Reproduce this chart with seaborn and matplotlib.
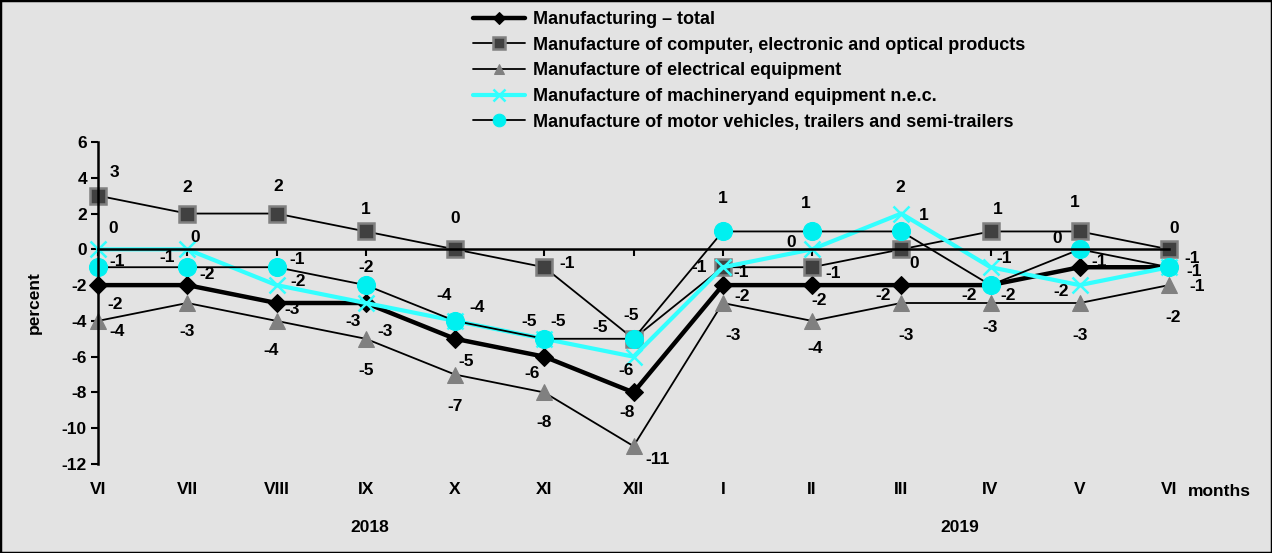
import matplotlib
matplotlib.use("Agg")
import matplotlib.pyplot as plt
import numpy as np
import pandas as pd
import seaborn as sns
from matplotlib.patches import Rectangle

# ---------------- data ----------------
months = ["VI", "VII", "VIII", "IX", "X", "XI", "XII", "I", "II", "III", "IV", "V", "VI"]
years = ["2018", "2019"]
total = [-2, -2, -3, -3, -5, -6, -8, -2, -2, -2, -2, -1, -1]
computer = [3, 2, 2, 1, 0, -1, -5, -1, -1, 0, 1, 1, 0]
electrical = [-4, -3, -4, -5, -7, -8, -11, -3, -4, -3, -3, -3, -2]
machinery = [0, 0, -2, -3, -4, -5, -6, -1, 0, 2, -1, -2, -1]
motor = [-1, -1, -1, -2, -4, -5, -5, 1, 1, 1, -2, 0, -1]

names = [
    "Manufacturing – total",
    "Manufacture of computer, electronic and optical products",
    "Manufacture of electrical equipment",
    "Manufacture of machineryand equipment n.e.c.",
    "Manufacture of motor vehicles, trailers and semi-trailers",
]

# label offsets in pixels (dx right, dy down)
total_off = [(17, 19), (20, -11), (16, 6), (-13, 18), (11, 23), (-12, 17), (-6, 20),
             (19, 11), (7, 15), (-18, 10), (-21, 10), (19, -6), (23, -9)]
computer_off = [(16, -23), (0, -26), (2, -27), (0, -22), (0, -31), (23, -4), (-2, -23),
                (-24, 0), (21, 6), (13, 14), (7, -22), (-5, -29), (5, -21)]
electrical_off = [(19, 11), (0, 28), (-5, 30), (0, 32), (0, 32), (0, 30), (24, 13),
                  (10, 32), (3, 28), (5, 32), (0, 25), (0, 32), (4, 32)]
machinery_off = [(15, -21), (8, -12), (22, -4), (19, 28), (22, -13), (14, -17), (-7, 14),
                 (18, 5), (-21, -7), (-1, -26), (14, -9), (-19, 6), (28, 19)]
motor_off = [(19, -6), (-20, -10), (21, -8), (0, -18), (-11, -25), (-15, -17), (-33, -11),
             (0, -33), (-6, -28), (22, -16), (18, 10), (-23, -11), (25, 4)]

BG = "#e3e3e3"
FS = 12.5
sns.set_theme(style="white")
plt.rcParams["font.family"] = ["Liberation Sans", "DejaVu Sans"]
plt.rcParams["font.weight"] = "bold"
plt.rcParams["axes.unicode_minus"] = False
plt.rcParams["text.color"] = "black"
plt.rcParams["axes.labelcolor"] = "black"
plt.rcParams["xtick.color"] = "black"
plt.rcParams["ytick.color"] = "black"

fig = plt.figure(figsize=(12.72, 5.53), dpi=100, facecolor=BG)
ax = fig.add_axes([98 / 1272, 1 - 464 / 553, (1169 - 98) / 1272, (464 - 142) / 553])
ax.set_facecolor(BG)

x = np.arange(len(months))
df = pd.DataFrame({"x": x, names[0]: total, names[1]: computer, names[2]: electrical,
                   names[3]: machinery, names[4]: motor})

styles = [
    dict(color="black", lw=3.2, marker="D", markersize=9, markerfacecolor="black",
         markeredgecolor="black"),
    dict(color="black", lw=1.3, marker="s", markersize=12, markerfacecolor="#404040",
         markeredgecolor="#808080", markeredgewidth=1.8),
    dict(color="black", lw=1.3, marker="^", markersize=11, markerfacecolor="#808080",
         markeredgecolor="#808080"),
    dict(color="#33ffff", lw=3.0, marker="x", markersize=12, markeredgewidth=1.8,
         markeredgecolor="#33ffff"),
    dict(color="black", lw=1.3, marker="o", markersize=13, markerfacecolor="#00f0f0",
         markeredgecolor="#00f0f0"),
]
offsets = [total_off, computer_off, electrical_off, machinery_off, motor_off]

for name, st in zip(names, styles):
    sns.lineplot(data=df, x="x", y=name, ax=ax, label=name, errorbar=None, sort=False,
                 clip_on=False, **st)

for name, offs in zip(names, offsets):
    for xi, v, (dx, dy) in zip(x, df[name], offs):
        ax.annotate(str(v), (xi, v), xytext=(dx, -dy), textcoords="offset pixels",
                    ha="center", va="center", fontsize=FS, fontweight="bold", color="black")

ax.set_xlim(0, 12)
ax.set_ylim(-12, 6)
ax.set_yticks(np.arange(-12, 7, 2))
ax.tick_params(axis="y", direction="out", length=5, width=1.5, color="black",
               labelsize=FS, pad=3, left=True)
for lab in ax.get_yticklabels():
    lab.set_fontweight("bold")

ax.spines["top"].set_visible(False)
ax.spines["right"].set_visible(False)
ax.spines["left"].set_color("black")
ax.spines["left"].set_linewidth(1.8)
ax.spines["bottom"].set_position(("data", 0))
ax.spines["bottom"].set_color("black")
ax.spines["bottom"].set_linewidth(1.8)
ax.set_xticks(x)
ax.set_xticklabels([])
ax.tick_params(axis="x", direction="out", length=5, width=1.5, color="black", bottom=True)

sec = ax.secondary_xaxis("bottom")
sec.set_xticks(x)
sec.set_xticklabels(months, fontsize=FS, fontweight="bold")
sec.tick_params(length=0, pad=13)
sec.spines["bottom"].set_visible(False)

ax.set_xlabel("")
ax.set_ylabel("percent", fontsize=FS, fontweight="bold", labelpad=14)

tr = ax.get_xaxis_transform()
ax.text(12.57, -0.085, "months", transform=tr, ha="center", va="center",
        fontsize=FS, fontweight="bold")
ax.text(3.05, -0.196, years[0], transform=tr, ha="center", va="center",
        fontsize=FS, fontweight="bold", clip_on=False)
ax.text(9.66, -0.196, years[1], transform=tr, ha="center", va="center",
        fontsize=FS, fontweight="bold", clip_on=False)

leg = ax.legend(loc="upper left", bbox_to_anchor=(473 / 1272, 1 - 11 / 553),
                bbox_transform=fig.transFigure, frameon=False,
                prop={"weight": "bold", "size": 13}, handlelength=2.9,
                handletextpad=0.42, labelspacing=0.48, markerscale=0.7,
                borderaxespad=0, borderpad=0)

fig.add_artist(Rectangle((0, 0), 1, 1, transform=fig.transFigure, fill=False,
                         edgecolor="black", linewidth=2.5))

fig.savefig("out.png", dpi=100, facecolor=BG)
